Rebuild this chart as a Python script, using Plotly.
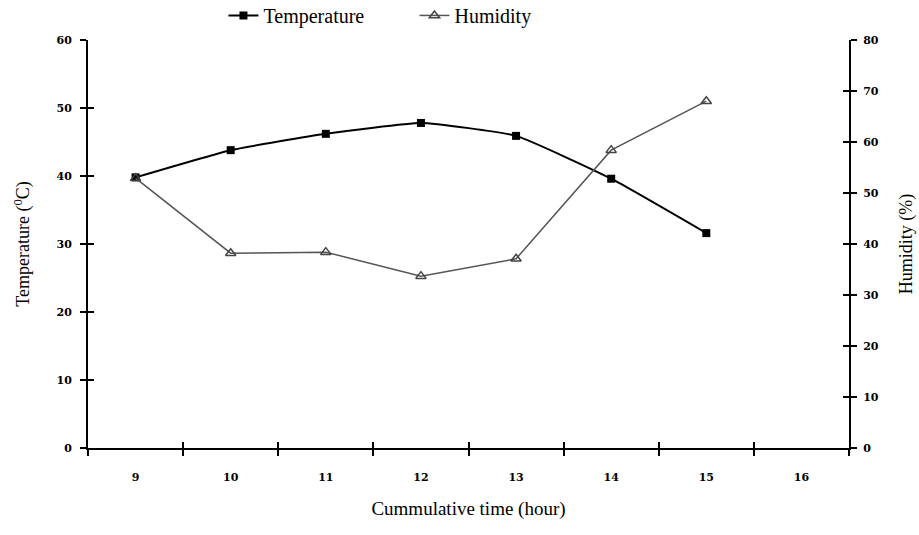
import plotly.graph_objects as go

hours = [9, 10, 11, 12, 13, 14, 15]
temperature = [39.8, 43.8, 46.2, 47.8, 45.9, 39.6, 31.6]
humidity = [52.9, 38.2, 38.4, 33.7, 37.1, 58.4, 68.0]
x_tick_vals = [9, 10, 11, 12, 13, 14, 15, 16]
x_bounds = [8.5, 9.5, 10.5, 11.5, 12.5, 13.5, 14.5, 15.5, 16.5]
left_ticks = [0, 10, 20, 30, 40, 50, 60]
right_ticks = [0, 10, 20, 30, 40, 50, 60, 70, 80]

serif = "Liberation Serif"
tickfont = dict(family="DejaVu Serif", size=11, color="black", weight="bold")

fig = go.Figure()
fig.add_trace(go.Scatter(
    x=hours, y=temperature, name="Temperature", mode="lines+markers",
    line=dict(color="black", width=2, shape="spline", smoothing=0.4),
    marker=dict(symbol="square", size=8, color="black"),
    yaxis="y", xaxis="x"))
fig.add_trace(go.Scatter(
    x=hours, y=humidity, name="Humidity", mode="lines+markers",
    line=dict(color="#555555", width=1.5),
    marker=dict(symbol="triangle-up-open", size=9, color="#444444", line=dict(width=1.5)),
    yaxis="y2", xaxis="x"))
# invisible helper traces for crossing ticks
fig.add_trace(go.Scatter(x=[9], y=[0], xaxis="x2", yaxis="y3", showlegend=False,
                         mode="markers", marker=dict(opacity=0), hoverinfo="skip"))
fig.add_trace(go.Scatter(x=[9], y=[0], xaxis="x2", yaxis="y4", showlegend=False,
                         mode="markers", marker=dict(opacity=0), hoverinfo="skip"))

axline = dict(showline=True, linecolor="black", linewidth=2, showgrid=False, zeroline=False)

fig.update_layout(
    width=919, height=535,
    margin=dict(l=88, r=70, t=40, b=87, autoexpand=False),
    plot_bgcolor="white", paper_bgcolor="white",
    font=dict(family=serif, color="black"),
    xaxis=dict(range=[8.5, 16.5], tickvals=x_tick_vals, ticktext=[str(v) for v in x_tick_vals],
               ticks="", tickfont=tickfont, ticklabelstandoff=18,
               minor=dict(tickvals=x_bounds, ticks="outside", ticklen=6, tickcolor="black", tickwidth=1.5),
               title=dict(text="Cummulative time (hour)", font=dict(family=serif, size=19), standoff=18),
               **axline),
    xaxis2=dict(range=[8.5, 16.5], overlaying="x", anchor="y", tickvals=x_bounds,
                ticks="inside", ticklen=6, tickcolor="black", tickwidth=1.5,
                showticklabels=False, showline=False, showgrid=False, zeroline=False, side="bottom"),
    yaxis=dict(range=[0, 60], tickvals=left_ticks, ticks="outside", ticklen=6, tickwidth=1.5,
               tickcolor="black", tickfont=tickfont, ticklabelstandoff=6,
               title=dict(text="Temperature (<sup>0</sup>C)", font=dict(family=serif, size=18), standoff=22),
               **axline),
    yaxis2=dict(range=[0, 80], tickvals=right_ticks, overlaying="y", side="right", anchor="x",
                ticks="outside", ticklen=6, tickwidth=1.5, tickcolor="black", tickfont=tickfont,
                ticklabelstandoff=4,
                title=dict(text="Humidity (%)", font=dict(family=serif, size=18), standoff=22),
                **axline),
    yaxis3=dict(range=[0, 60], tickvals=left_ticks, overlaying="y", side="left", anchor="x2",
                ticks="inside", ticklen=6, tickwidth=1.5, tickcolor="black",
                showticklabels=False, showline=False, showgrid=False, zeroline=False),
    yaxis4=dict(range=[0, 80], tickvals=right_ticks, overlaying="y", side="right", anchor="x2",
                ticks="inside", ticklen=6, tickwidth=1.5, tickcolor="black",
                showticklabels=False, showline=False, showgrid=False, zeroline=False),
    legend=dict(orientation="h", x=0.178, xanchor="left", y=1.108, yanchor="top",
                font=dict(family=serif, size=20), itemwidth=30, entrywidth=146,
                bgcolor="rgba(0,0,0,0)"),
    showlegend=True,
)

fig.write_html("out.html")
